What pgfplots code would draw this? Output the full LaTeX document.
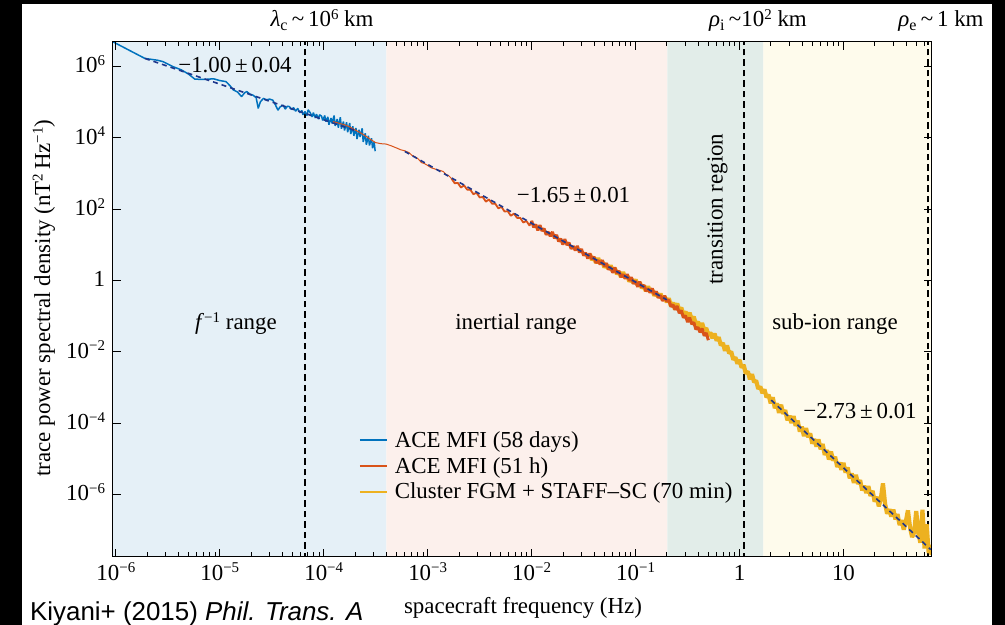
\documentclass[border=0pt]{standalone}
\usepackage{pgfplots}
\pgfplotsset{compat=1.18}
\usepackage{pgfplotstable}
\usepackage{fontspec}
\setmainfont{Liberation Serif}
\newfontfamily\arialfont{Liberation Sans}
\definecolor{regblue}{RGB}{229,240,247}
\definecolor{regpink}{RGB}{252,240,236}
\definecolor{regteal}{RGB}{226,237,233}
\definecolor{regyel}{RGB}{254,251,236}
\definecolor{cblue}{RGB}{0,114,189}
\definecolor{corange}{RGB}{217,83,25}
\definecolor{cyellow}{RGB}{237,177,32}
\definecolor{cfit}{RGB}{30,55,140}
\newcommand\sups[1]{\raisebox{7.5bp}{\fontsize{15}{15}\selectfont #1}}
\newcommand\fs{\fontsize{23}{27}\selectfont}

% all values are log10(frequency / Hz) and log10(PSD / nT^2 Hz^-1)
\pgfplotstableread{
x y
-6.03 6.69
-5.72 6.22
-5.60 6.17
-5.545 6.13
-5.45 5.99
-5.37 5.90
-5.30 5.78
-5.24 5.64
-5.15 5.63
-5.06 5.65
-5.00 5.60
-4.94 5.57
-4.90 5.45
-4.87 5.34
-4.83 5.28
-4.79 5.15
-4.76 5.26
-4.74 5.29
-4.71 5.22
-4.68 5.19
-4.65 5.12
-4.63 4.82
-4.61 5.00
-4.58 5.10
-4.55 5.06
-4.52 5.08
-4.49 5.05
-4.465 4.92
-4.44 4.77
-4.42 4.86
-4.39 4.91
-4.37 4.80
-4.35 4.88
-4.33 4.87
-4.31 4.79
-4.29 4.84
-4.27 4.74
-4.25 4.82
-4.23 4.70
-4.21 4.76
-4.20 4.64
-4.18 4.73
-4.16 4.62
-4.15 4.78
-4.13 4.70
-4.11 4.58
-4.10 4.70
-4.08 4.55
-4.07 4.66
-4.05 4.52
-4.04 4.64
-4.02 4.60
-4.01 4.48
-3.99 4.62
-3.98 4.45
-3.96 4.58
-3.95 4.36
-3.93 4.55
-3.92 4.40
-3.90 4.62
-3.89 4.33
-3.87 4.52
-3.86 4.28
-3.84 4.57
-3.83 4.25
-3.81 4.45
-3.80 4.20
-3.78 4.43
-3.77 4.15
-3.75 4.41
-3.74 4.10
-3.72 4.32
-3.71 4.05
-3.69 4.27
-3.68 3.96
-3.66 4.22
-3.65 4.02
-3.63 4.26
-3.62 3.88
-3.60 4.12
-3.59 3.80
-3.57 4.05
-3.56 3.78
-3.54 3.98
-3.53 3.70
-3.515 3.88
-3.505 3.62
}\aceslow

\pgfplotstableread{
x y
-3.91 4.45
-3.85 4.40
-3.80 4.36
-3.75 4.30
-3.70 4.22
-3.65 4.14
-3.60 4.05
-3.55 3.95
-3.50 3.86
-3.45 3.83
-3.40 3.82
-3.35 3.77
-3.30 3.71
-3.26 3.66
-3.22 3.63
-3.18 3.58
-3.15 3.50
-3.12 3.46
-3.09 3.40
-3.06 3.30
-3.03 3.27
-3.00 3.22
-2.97 3.16
-2.94 3.13
-2.91 3.10
-2.88 3.08
-2.85 3.05
-2.82 2.96
-2.80 2.94
-2.77 2.850
}\acefastlow

\pgfplotstableread{
x y
-2.77 2.850
-2.74 2.720
-2.71 2.731
-2.68 2.601
-2.65 2.662
-2.62 2.542
-2.59 2.543
-2.56 2.413
-2.53 2.454
-2.50 2.324
-2.47 2.335
-2.44 2.205
-2.41 2.266
-2.38 2.146
-2.35 2.147
-2.32 2.017
-2.29 2.058
-2.26 1.928
-2.23 1.939
-2.20 1.809
-2.17 1.870
-2.14 1.750
-2.11 1.751
-2.08 1.621
-2.05 1.662
-2.02 1.532
-2.00 1.669
}\acefastmid

\pgfplotstableread{
x y
-2.00 1.669
-1.98 1.486
-1.96 1.563
-1.94 1.400
-1.92 1.547
-1.90 1.384
-1.88 1.451
-1.86 1.278
-1.84 1.355
-1.82 1.232
-1.80 1.359
-1.78 1.176
-1.76 1.273
-1.74 1.090
-1.72 1.167
-1.70 1.004
-1.68 1.151
-1.66 0.988
-1.64 1.055
-1.62 0.882
-1.60 0.959
-1.58 0.836
-1.56 0.963
-1.54 0.780
-1.52 0.877
-1.50 0.694
-1.48 0.771
-1.46 0.608
-1.44 0.755
-1.42 0.592
-1.40 0.659
-1.38 0.486
-1.36 0.563
-1.34 0.440
-1.32 0.567
-1.30 0.384
-1.28 0.481
-1.26 0.298
-1.24 0.375
-1.22 0.212
-1.20 0.359
-1.18 0.196
-1.16 0.263
-1.14 0.090
-1.12 0.167
-1.10 0.044
-1.08 0.171
-1.06 -0.012
-1.04 0.085
-1.02 -0.098
-1.00 -0.021
-0.98 -0.184
-0.96 -0.037
-0.94 -0.200
-0.92 -0.133
-0.90 -0.306
-0.88 -0.229
-0.86 -0.352
-0.84 -0.225
-0.82 -0.408
-0.80 -0.311
-0.78 -0.494
-0.76 -0.417
-0.74 -0.580
-0.72 -0.433
-0.70 -0.596
-0.68 -0.549
-0.66 -0.741
-0.64 -0.684
-0.62 -0.827
-0.60 -0.720
-0.58 -0.922
-0.56 -0.845
-0.54 -1.048
-0.52 -0.990
-0.50 -1.173
-0.48 -1.046
-0.46 -1.228
-0.44 -1.181
-0.42 -1.374
-0.40 -1.317
-0.38 -1.459
-0.36 -1.352
-0.34 -1.555
-0.32 -1.477
-0.30 -1.680
}\acefast

\pgfplotstableread{
x y
-1.44 0.735
-1.42 0.572
-1.40 0.639
-1.38 0.486
-1.36 0.623
-1.34 0.470
-1.32 0.527
-1.30 0.364
-1.28 0.431
-1.26 0.318
-1.24 0.415
-1.22 0.262
-1.20 0.339
-1.18 0.176
-1.16 0.243
-1.14 0.090
-1.12 0.227
-1.10 0.074
-1.08 0.131
-1.06 -0.032
-1.04 0.035
-1.02 -0.078
-1.00 0.019
-0.98 -0.134
-0.96 -0.057
-0.94 -0.220
-0.92 -0.153
-0.90 -0.306
-0.88 -0.169
-0.86 -0.322
-0.84 -0.265
-0.82 -0.428
-0.80 -0.361
-0.78 -0.474
-0.76 -0.377
-0.74 -0.530
-0.72 -0.453
-0.70 -0.616
-0.68 -0.506
-0.66 -0.717
-0.64 -0.627
-0.62 -0.818
-0.60 -0.648
-0.58 -0.838
-0.56 -0.769
-0.54 -0.969
-0.52 -0.880
-0.50 -1.030
-0.48 -0.910
-0.46 -1.110
-0.44 -1.020
-0.42 -1.240
-0.40 -1.160
-0.38 -1.360
-0.36 -1.200
-0.34 -1.400
-0.32 -1.340
-0.30 -1.550
-0.28 -1.465
-0.26 -1.621
-0.24 -1.496
-0.22 -1.692
-0.20 -1.597
-0.18 -1.823
-0.16 -1.758
-0.14 -1.974
-0.12 -1.829
-0.10 -2.045
-0.08 -2.000
-0.06 -2.225
-0.04 -2.161
-0.02 -2.336
0.00 -2.232
0.02 -2.447
0.04 -2.375
0.06 -2.614
0.08 -2.554
0.10 -2.774
0.12 -2.633
0.14 -2.853
0.16 -2.812
0.18 -3.042
0.20 -2.982
0.22 -3.161
0.24 -3.061
0.26 -3.280
0.28 -3.210
0.30 -3.450
0.32 -3.281
0.34 -3.586
0.36 -3.450
0.38 -3.715
0.40 -3.489
0.42 -3.744
0.44 -3.639
0.46 -3.923
0.48 -3.798
0.50 -4.002
0.52 -3.807
0.54 -4.082
0.56 -3.936
0.58 -4.241
0.60 -4.105
0.62 -4.370
0.64 -4.145
0.66 -4.399
0.68 -4.294
0.70 -4.578
0.72 -4.453
0.74 -4.658
0.76 -4.462
0.78 -4.737
0.80 -4.591
0.82 -4.896
0.84 -4.761
0.86 -5.025
0.88 -4.800
0.90 -5.054
0.92 -4.949
0.94 -5.234
0.96 -5.108
0.98 -5.313
1.00 -5.117
1.02 -5.392
1.04 -5.247
1.06 -5.551
1.08 -5.416
1.10 -5.680
1.12 -5.455
1.14 -5.710
1.16 -5.604
1.18 -5.889
1.20 -5.763
1.22 -5.968
1.24 -5.773
1.26 -6.047
1.28 -5.902
1.30 -6.206
1.32 -6.071
1.34 -6.336
1.36 -6.110
1.38 -5.695
1.40 -6.259
1.42 -6.544
1.44 -6.419
1.46 -6.623
1.48 -6.428
1.50 -6.702
1.52 -6.557
1.54 -6.862
1.56 -6.726
1.58 -6.991
1.60 -6.765
1.62 -6.450
1.64 -6.915
1.66 -7.199
1.68 -7.074
1.70 -6.468
1.72 -7.083
1.74 -7.358
1.76 -6.432
1.78 -7.517
1.80 -6.841
1.82 -7.646
1.84 -7.421
1.848 -7.700
}\cluster

\pgfplotstableread{
x y
-5.72 6.22
-3.70 4.20
}\fitone
\pgfplotstableread{
x y
-3.22 3.612
-0.70 -0.546
}\fittwo
\pgfplotstableread{
x y
0.305 -3.36
1.84 -7.551
}\fitthree

\begin{document}
\begin{tikzpicture}
\fill[black] (0bp,0bp) rectangle (1005bp,625bp);
\fill[white] (22bp,0bp) rectangle (992bp,621bp);
\begin{axis}[
  at={(112.7bp,68.3bp)}, anchor=south west,
  scale only axis, width=819bp, height=515bp,
  xmode=log, ymode=log,
  xmin=9.33e-7, xmax=70.6, ymin=1.78e-8, ymax=4.89e6,
  axis on top,
  axis line style={black, line width=0.9bp},
  tick style={black, line width=0.8bp},
  tick align=inside,
  major tick length=8bp, minor tick length=4.5bp,
  xtick={1e-6,1e-5,1e-4,1e-3,1e-2,1e-1,1,10},
  xticklabels={10\sups{−6},10\sups{−5},10\sups{−4},10\sups{−3},10\sups{−2},10\sups{−1},1,10},
  minor xtick={2e-6,3e-6,4e-6,5e-6,6e-6,7e-6,8e-6,9e-6,
    2e-5,3e-5,4e-5,5e-5,6e-5,7e-5,8e-5,9e-5,
    2e-4,3e-4,4e-4,5e-4,6e-4,7e-4,8e-4,9e-4,
    2e-3,3e-3,4e-3,5e-3,6e-3,7e-3,8e-3,9e-3,
    0.02,0.03,0.04,0.05,0.06,0.07,0.08,0.09,
    0.2,0.3,0.4,0.5,0.6,0.7,0.8,0.9,
    2,3,4,5,6,7,8,9,20,30,40,50,60,70},
  ytick={1e-6,1e-4,1e-2,1,1e2,1e4,1e6},
  yticklabels={10\sups{−6},10\sups{−4},10\sups{−2},1,10\sups{2},10\sups{4},10\sups{6}},
  minor ytick={},
  ticklabel style={font=\fs},
  xticklabel style={anchor=base, inner sep=0pt, yshift=-23.3bp},
  yticklabel style={anchor=base east, inner sep=0pt, xshift=-7.5bp, yshift=-6.7bp},
  legend style={at={(0.3007,0.244)}, anchor=north west, draw=none, fill=none,
    inner sep=0pt, row sep=8.5bp, column sep=7bp, font=\fs,
    nodes={inner sep=0pt}},
  legend cell align=left,
]
% shaded ranges
\addplot[draw=none, fill=regblue, forget plot] coordinates {(9e-7,1e-9) (4.0e-4,1e-9) (4.0e-4,1e8) (9e-7,1e8)} \closedcycle;
\addplot[draw=none, fill=regpink, forget plot] coordinates {(4.0e-4,1e-9) (0.2018,1e-9) (0.2018,1e8) (4.0e-4,1e8)} \closedcycle;
\addplot[draw=none, fill=regteal, forget plot] coordinates {(0.2018,1e-9) (1.70,1e-9) (1.70,1e8) (0.2018,1e8)} \closedcycle;
\addplot[draw=none, fill=regyel, forget plot] coordinates {(1.70,1e-9) (80,1e-9) (80,1e8) (1.70,1e8)} \closedcycle;
% characteristic scales
\addplot[black, line width=2.2bp, dash pattern=on 6.5bp off 4bp, forget plot] coordinates {(6.56e-5,1e-9) (6.56e-5,1e8)};
\addplot[black, line width=2.2bp, dash pattern=on 6.5bp off 4bp, forget plot] coordinates {(1.10,1e-9) (1.10,1e8)};
\addplot[black, line width=2.2bp, dash pattern=on 6.5bp off 4bp, forget plot] coordinates {(65.6,1e-9) (65.6,1e8)};
% spectra
\addplot[cyellow, line width=4.2bp, line join=bevel, forget plot] table[x expr={10^(\thisrow{x})}, y expr={10^(\thisrow{y})}] {\cluster};
\addplot[cblue, line width=1.5bp, line join=bevel, forget plot] table[x expr={10^(\thisrow{x})}, y expr={10^(\thisrow{y})}] {\aceslow};
\addplot[corange, line width=1.0bp, forget plot] table[x expr={10^(\thisrow{x})}, y expr={10^(\thisrow{y})}] {\acefastlow};
\addplot[corange, line width=1.8bp, line join=bevel, forget plot] table[x expr={10^(\thisrow{x})}, y expr={10^(\thisrow{y})}] {\acefastmid};
\addplot[corange, line width=3.0bp, line join=bevel, forget plot] table[x expr={10^(\thisrow{x})}, y expr={10^(\thisrow{y})}] {\acefast};
% fits
\addplot[cfit, line width=1.6bp, dash pattern=on 5bp off 4bp, forget plot] table[x expr={10^(\thisrow{x})}, y expr={10^(\thisrow{y})}] {\fitone};
\addplot[cfit, line width=1.6bp, dash pattern=on 5bp off 4bp, forget plot] table[x expr={10^(\thisrow{x})}, y expr={10^(\thisrow{y})}] {\fittwo};
\addplot[cfit, line width=1.6bp, dash pattern=on 5bp off 4bp, forget plot] table[x expr={10^(\thisrow{x})}, y expr={10^(\thisrow{y})}] {\fitthree};
\addlegendimage{legend image code/.code={\draw[draw=cblue, line width=1.6bp] (0bp,0bp) -- (27bp,0bp);}}
\addlegendentry{ACE MFI (58 days)}
\addlegendimage{legend image code/.code={\draw[draw=corange, line width=1.6bp] (0bp,0bp) -- (27bp,0bp);}}
\addlegendentry{ACE MFI (51 h)}
\addlegendimage{legend image code/.code={\draw[draw=cyellow, line width=1.6bp] (0bp,0bp) -- (27bp,0bp);}}
\addlegendentry{Cluster FGM + STAFF–SC (70 min)}
\end{axis}
% annotations
\node[font=\fs, anchor=base, inner sep=0pt] at (235bp,552bp) {−1.00\,±\,0.04};
\node[font=\fs, anchor=base, inner sep=0pt] at (573.5bp,422bp) {−1.65\,±\,0.01};
\node[font=\fs, anchor=base, inner sep=0pt] at (860bp,206bp) {−2.73\,±\,0.01};
\node[font=\fs, anchor=base, inner sep=0pt] at (236bp,295bp) {{\itshape f\/}\sups{−1} range};
\node[font=\fs, anchor=base, inner sep=0pt] at (516bp,295bp) {inertial range};
\node[font=\fs, anchor=base, inner sep=0pt] at (835bp,295bp) {sub-ion range};
\node[font=\fs, anchor=base, inner sep=0pt, rotate=90] at (722.7bp,416bp) {transition region};
\node[font=\fs, anchor=base, inner sep=0pt] at (322bp,598bp) {{\itshape λ}\textsubscript{c}\,\textasciitilde\,10\sups{6} km};
\node[font=\fs, anchor=base, inner sep=0pt] at (758bp,598bp) {{\itshape ρ}\textsubscript{i}\,\textasciitilde10\sups{2} km};
\node[font=\fs, anchor=base, inner sep=0pt] at (941bp,598bp) {{\itshape ρ}\textsubscript{e}\,\textasciitilde\,1 km};
\node[font=\fs, anchor=base, inner sep=0pt, rotate=90] at (50bp,327bp) {trace power spectral density (nT\sups{2}\,Hz\sups{−1})};
\node[font=\fs, anchor=base, inner sep=0pt] at (523bp,12bp) {spacecraft frequency (Hz)};
\node[font=\arialfont\fontsize{26}{30}\selectfont, anchor=base west, inner sep=0pt] at (30bp,5bp) {Kiyani+ (2015) {\itshape Phil. Trans. A}};
\pgfresetboundingbox
\useasboundingbox (0bp,0bp) rectangle (1005bp,625bp);
\end{tikzpicture}
\end{document}
